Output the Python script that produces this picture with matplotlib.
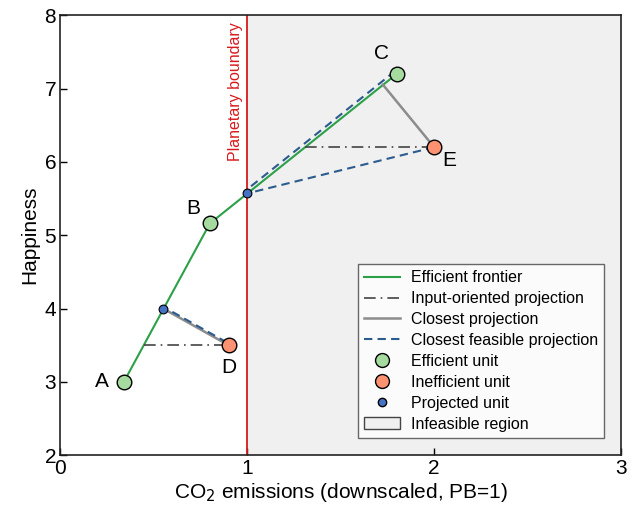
import matplotlib
matplotlib.use("Agg")
import matplotlib.pyplot as plt
import matplotlib.transforms as mtransforms
from matplotlib.lines import Line2D
from matplotlib.patches import Patch

plt.rcParams['font.family'] = ['Liberation Sans', 'DejaVu Sans']

# Data
eff_names = ["A", "B", "C"]
eff_x = [0.34, 0.80, 1.80]
eff_y = [3.00, 5.16, 7.20]
ineff_names = ["D", "E"]
ineff_x = [0.90, 2.00]
ineff_y = [3.50, 6.20]
proj_x = [0.55, 1.00]
proj_y = [4.00, 5.57]
closest_x = [0.55, 1.726]   # closest projections of D, E
closest_y = [4.00, 7.053]
input_proj_x = [0.446, 1.31]  # input-oriented projections of D, E
frontier_x = [0.34, 0.80, 1.80]
frontier_y = [3.00, 5.16, 7.20]
pb = 1.0

fig, ax = plt.subplots(figsize=(6.35, 5.08), dpi=100)
fig.subplots_adjust(left=0.095, right=0.978, top=0.97, bottom=0.104)

ax.set_xlim(0, 3)
ax.set_ylim(2, 8)

ax.axvspan(pb, 3, color='#f0f0f0', zorder=0)
ax.axvline(pb, color='#d7191c', lw=1.3, zorder=2)
ax.text(pb - 0.025, 7.9, "Planetary boundary", rotation=90, color='#d7191c',
        ha='right', va='top', fontsize=11.5)

green = '#2ca048'
ax.plot(frontier_x, frontier_y, color=green, lw=1.5, zorder=3)

# Input-oriented projections
for xi, yi, xp in zip(ineff_x, ineff_y, input_proj_x):
    ax.plot([xp, xi], [yi, yi], color='#444444', lw=1.2, ls=(0, (7, 3, 1, 3)), zorder=3)

# Closest projections
for xi, yi, xc, yc in zip(ineff_x, ineff_y, closest_x, closest_y):
    ax.plot([xc, xi], [yc, yi], color='#8c8c8c', lw=1.8, zorder=3)

off = mtransforms.offset_copy(ax.transData, fig=fig, x=-1.2, y=2.0, units='points')
blue_dash = '#2c5b8e'
# D -> proj1 (offset), E -> proj2, C -> proj2 (offset)
ax.plot([ineff_x[0], proj_x[0]], [ineff_y[0], proj_y[0]], color=blue_dash, lw=1.5,
        ls=(0, (4, 2.5)), transform=off, zorder=4)
ax.plot([ineff_x[1], proj_x[1]], [ineff_y[1], proj_y[1]], color=blue_dash, lw=1.5,
        ls=(0, (4, 2.5)), zorder=4)
ax.plot([eff_x[2], proj_x[1]], [eff_y[2], proj_y[1]], color=blue_dash, lw=1.5,
        ls=(0, (4, 2.5)), transform=off, zorder=4)

ax.scatter(eff_x, eff_y, s=110, color='#a6dba0', edgecolor='black', lw=1, zorder=5)
ax.scatter(ineff_x, ineff_y, s=110, color='#fc9272', edgecolor='black', lw=1, zorder=5)
ax.scatter(proj_x, proj_y, s=40, color='#4472c4', edgecolor='black', lw=0.8, zorder=5)

label_off = {"A": (-0.12, 0.0), "B": (-0.09, 0.2), "C": (-0.08, 0.28),
             "D": (0.0, -0.3), "E": (0.08, -0.18)}
for n, x, y in zip(eff_names + ineff_names, eff_x + ineff_x, eff_y + ineff_y):
    dx, dy = label_off[n]
    ax.text(x + dx, y + dy, n, fontsize=15, ha='center', va='center', zorder=6)

ax.set_xticks([0, 1, 2, 3])
ax.set_yticks([2, 3, 4, 5, 6, 7, 8])
ax.tick_params(direction='in', labelsize=15, length=5, width=1, pad=3)
for s in ax.spines.values():
    s.set_linewidth(1.2)
    s.set_color('#222222')
ax.set_xlabel("CO$_2$ emissions (downscaled, PB=1)", fontsize=15, labelpad=2)
ax.set_ylabel("Happiness", fontsize=15, labelpad=4)

handles = [
    Line2D([], [], color=green, lw=1.5, label='Efficient frontier'),
    Line2D([], [], color='#444444', lw=1.2, ls=(0, (7, 3, 1, 3)), label='Input-oriented projection'),
    Line2D([], [], color='#8c8c8c', lw=1.8, label='Closest projection'),
    Line2D([], [], color=blue_dash, lw=1.5, ls=(0, (4, 2.5)), label='Closest feasible projection'),
    Line2D([], [], marker='o', ls='none', ms=10, mfc='#a6dba0', mec='black', label='Efficient unit'),
    Line2D([], [], marker='o', ls='none', ms=10, mfc='#fc9272', mec='black', label='Inefficient unit'),
    Line2D([], [], marker='o', ls='none', ms=6, mfc='#4472c4', mec='black', label='Projected unit'),
    Patch(facecolor='#f0f0f0', edgecolor='#444444', label='Infeasible region'),
]
leg = ax.legend(handles=handles, loc='lower right', bbox_to_anchor=(0.97, 0.039),
                borderaxespad=0, fontsize=11.5, frameon=True, fancybox=False,
                edgecolor='#444444', handlelength=2.2, handletextpad=0.7,
                labelspacing=0.37, borderpad=0.4)
leg.get_frame().set_linewidth(1.0)

fig.savefig("out.png", dpi=100)
